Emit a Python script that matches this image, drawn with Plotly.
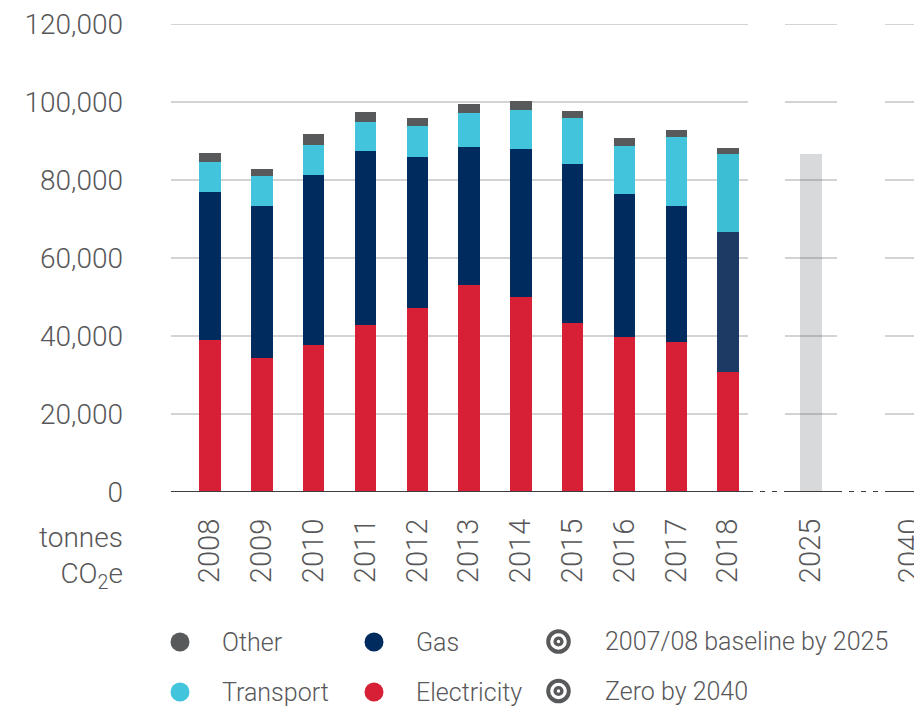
import plotly.graph_objects as go

# --- data ---
years = ["2008", "2009", "2010", "2011", "2012", "2013", "2014", "2015", "2016", "2017", "2018"]
electricity = [39000, 34400, 37600, 42800, 47300, 53200, 49900, 43300, 39700, 38500, 30800]
gas = [37900, 39000, 43700, 44600, 38500, 35300, 38000, 40700, 36700, 34800, 35900]
transport = [7700, 7600, 7700, 7500, 8000, 8700, 10000, 11900, 12300, 17700, 20000]
other = [2300, 1800, 2800, 2500, 2100, 2300, 2400, 1800, 2100, 1800, 1500]

target_years = ["2025", "2040"]
target_values = [86700, 0]

y_ticks = [0, 20000, 40000, 60000, 80000, 100000, 120000]

# --- layout helpers (pixels of the 922x707 page; the page body adds an 8px offset) ---
W, H = 922, 707
OFF = 8
PLOT_L, PLOT_R, PLOT_T, PLOT_B = 171, 922, 24, 492
SLOT = 51.8          # px between yearly bars
X0 = 210             # px centre of first bar

def ux(px):
    return (px - X0) / SLOT

def paper_x(px):
    return (px - PLOT_L) / (PLOT_R - PLOT_L)

def paper_y(py):
    return (PLOT_B - py) / (PLOT_B - PLOT_T)

x_hist = list(range(len(years)))
x_target = [ux(811), ux(910)]

GREY_TXT = "#575759"
FONT = "Roboto"
C_OTHER, C_TRANS, C_GAS, C_ELEC = "#58595b", "#41c4dc", "#002b5e", "#d71f36"
gas_colors = [C_GAS] * (len(years) - 1) + ["#1c3a63"]
trans_colors = [C_TRANS] * (len(years) - 1) + ["#3cbfd4"]

BAR_W = 0.413

fig = go.Figure()
fig.add_trace(go.Bar(x=x_hist, y=electricity, name="Electricity", marker=dict(color=C_ELEC, line_width=0), width=BAR_W))
fig.add_trace(go.Bar(x=x_hist, y=gas, name="Gas", marker=dict(color=gas_colors, line_width=0), width=BAR_W))
fig.add_trace(go.Bar(x=x_hist, y=transport, name="Transport", marker=dict(color=trans_colors, line_width=0), width=BAR_W))
fig.add_trace(go.Bar(x=x_hist, y=other, name="Other", marker=dict(color=C_OTHER, line_width=0), width=BAR_W))
fig.add_trace(go.Bar(x=x_target, y=target_values, name="Target",
                     marker=dict(color="rgba(78,80,88,0.22)", line_width=0), width=BAR_W))

# broken gridlines and baseline
segments = [(ux(PLOT_L), ux(748)), (ux(785), ux(837)), (ux(885), ux(PLOT_R))]
gaps = [(ux(748), ux(785)), (ux(837), ux(885))]
shapes = []
for v in y_ticks[1:]:
    for a, b in segments:
        shapes.append(dict(type="line", xref="x", yref="y", x0=a, x1=b, y0=v, y1=v,
                           line=dict(color="#c4c4c4", width=1.5), layer="below"))
for a, b in segments:
    shapes.append(dict(type="line", xref="x", yref="y", x0=a, x1=b, y0=0, y1=0,
                       line=dict(color="#3d3d3f", width=2.2), layer="above"))
for a, b in gaps:
    shapes.append(dict(type="line", xref="x", yref="y", x0=a, x1=b, y0=0, y1=0,
                       line=dict(color="#3d3d3f", width=2, dash="5px,7px"), layer="above"))

# custom legend: dots and bullseye icons
dot_items = [("Other", C_OTHER, 180, 642), ("Gas", C_GAS, 374, 642),
             ("Transport", C_TRANS, 180, 692), ("Electricity", C_ELEC, 374, 692)]
ring_items = [("2007/08 baseline by 2025", 558.5, 641.5), ("Zero by 2040", 558.5, 691)]

annotations = []
for label, col, cx, cy in dot_items:
    shapes.append(dict(type="circle", xref="paper", yref="paper", xsizemode="pixel", ysizemode="pixel",
                       xanchor=paper_x(cx), yanchor=paper_y(cy), x0=-9.5, x1=9.5, y0=-9.5, y1=9.5,
                       fillcolor=col, line_width=0))
    annotations.append(dict(x=paper_x(cx + 40), y=paper_y(cy), xref="paper", yref="paper",
                            text=label, showarrow=False, xanchor="left", yanchor="middle",
                            font=dict(size=25, color=GREY_TXT)))
for label, cx, cy in ring_items:
    for r, lw in ((10.3, 4), (3.4, 3.4)):
        shapes.append(dict(type="circle", xref="paper", yref="paper", xsizemode="pixel", ysizemode="pixel",
                           xanchor=paper_x(cx), yanchor=paper_y(cy), x0=-r, x1=r, y0=-r, y1=r,
                           line=dict(color=C_OTHER, width=lw)))
    annotations.append(dict(x=paper_x(cx + 44), y=paper_y(cy), xref="paper", yref="paper",
                            text=label, showarrow=False, xanchor="left", yanchor="middle",
                            font=dict(size=25, color=GREY_TXT)))

annotations.append(dict(x=paper_x(125), y=paper_y(557), xref="paper", yref="paper",
                        text="tonnes<br>CO<sub>2</sub>e", showarrow=False, xanchor="right",
                        yanchor="middle", align="right", font=dict(size=28, color=GREY_TXT)))

fig.update_layout(
    width=W - OFF, height=H - OFF,
    barmode="stack",
    showlegend=False,
    plot_bgcolor="white", paper_bgcolor="white",
    font=dict(family=FONT, weight=300, color=GREY_TXT),
    margin=dict(l=PLOT_L - OFF, r=W - PLOT_R, t=PLOT_T - OFF, b=H - PLOT_B, autoexpand=False),
    shapes=shapes,
    annotations=annotations,
    xaxis=dict(range=[ux(PLOT_L), ux(PLOT_R)], tickvals=x_hist + x_target, ticktext=years + target_years,
               tickangle=-90, ticks="", showgrid=False, zeroline=False, showline=False,
               ticklabelstandoff=20, ticklabeloverflow="allow",
               tickfont=dict(size=29, color=GREY_TXT)),
    yaxis=dict(range=[0, 120000], tickvals=y_ticks, tickformat=",d", ticks="", showgrid=False,
               zeroline=False, showline=False, ticklabelstandoff=47, ticklabeloverflow="allow",
               tickfont=dict(size=28, color=GREY_TXT)),
)

fig.write_html("out.html")
